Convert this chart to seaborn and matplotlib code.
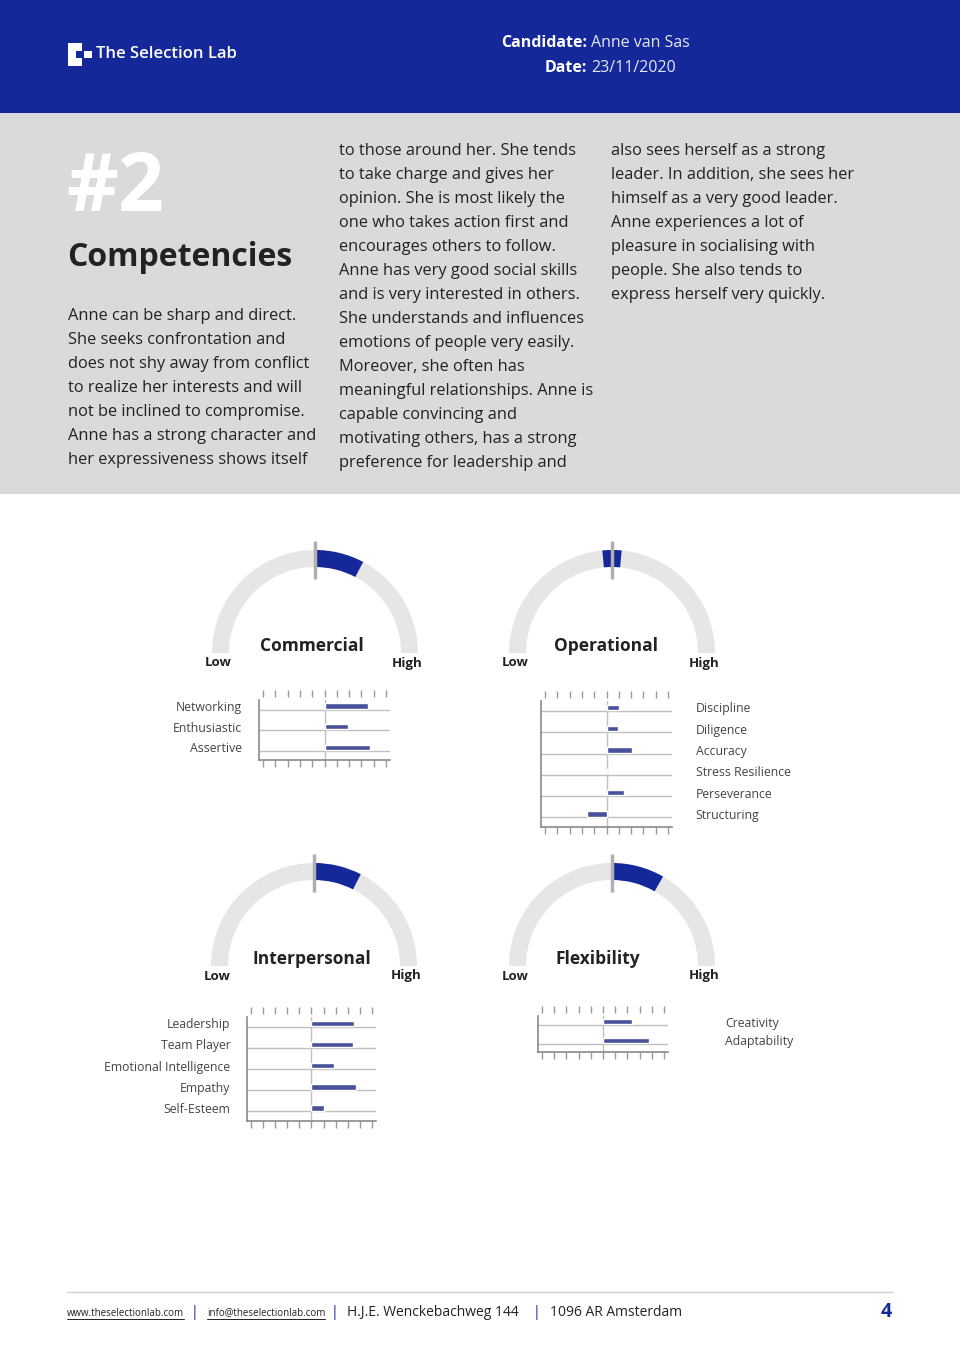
import matplotlib
matplotlib.use("Agg")
import matplotlib.pyplot as plt
import seaborn as sns
from matplotlib.patches import Wedge, Rectangle

# header info
candidate = "Anne van Sas"
report_date = "23/11/2020"

# intro text, one list per column
col1_lines = [
    "Anne can be sharp and direct.",
    "She seeks confrontation and",
    "does not shy away from conflict",
    "to realize her interests and will",
    "not be inclined to compromise.",
    "Anne has a strong character and",
    "her expressiveness shows itself",
]
col2_lines = [
    "to those around her. She tends",
    "to take charge and gives her",
    "opinion. She is most likely the",
    "one who takes action first and",
    "encourages others to follow.",
    "Anne has very good social skills",
    "and is very interested in others.",
    "She understands and influences",
    "emotions of people very easily.",
    "Moreover, she often has",
    "meaningful relationships. Anne is",
    "capable convincing and",
    "motivating others, has a strong",
    "preference for leadership and",
]
col3_lines = [
    "also sees herself as a strong",
    "leader. In addition, she sees her",
    "himself as a very good leader.",
    "Anne experiences a lot of",
    "pleasure in socialising with",
    "people. She also tends to",
    "express herself very quickly.",
]

# gauges: filled part of the half ring, -1 = Low, 1 = High
gauge_names = ["Commercial", "Operational", "Interpersonal", "Flexibility"]
gauge_low = [0.0, -0.06, 0.0, 0.0]
gauge_high = [0.31, 0.06, 0.30, 0.33]

# sub-scores on a -5..5 scale
commercial_labels = ["Networking", "Enthusiastic", "Assertive"]
commercial_scores = [3.5, 1.9, 3.7]
operational_labels = ["Discipline", "Diligence", "Accuracy", "Stress Resilience",
                      "Perseverance", "Structuring"]
operational_scores = [1.0, 0.9, 2.1, 0.0, 1.45, -1.6]
interpersonal_labels = ["Leadership", "Team Player", "Emotional Intelligence",
                        "Empathy", "Self-Esteem"]
interpersonal_scores = [3.5, 3.4, 1.9, 3.65, 1.0]
flexibility_labels = ["Creativity", "Adaptability"]
flexibility_scores = [2.4, 3.8]

navy = "#15289a"
bar_blue = "#3a47a6"
band_grey = "#dadada"
ring_grey = "#e6e6e6"
text_dark = "#222222"

sns.set_theme(style="white")
plt.rcParams["font.family"] = ["Open Sans", "DejaVu Sans"]

W, H = 960, 1360
fig = plt.figure(figsize=(9.6, 13.6), dpi=100)
fig.patch.set_facecolor("white")

# page canvas in pixel coordinates
bg = fig.add_axes([0, 0, 1, 1])
bg.set_xlim(0, W)
bg.set_ylim(H, 0)
bg.axis("off")

# header
bg.add_patch(Rectangle((0, 0), W, 113, facecolor=navy, edgecolor="none"))
bg.add_patch(Rectangle((68, 43), 14, 23, facecolor="white", edgecolor="none"))
bg.add_patch(Rectangle((76, 51), 6, 6.5, facecolor=navy, edgecolor="none"))
bg.add_patch(Rectangle((84, 51), 7.5, 6.5, facecolor="white", edgecolor="none"))
bg.text(96, 54, "The Selection Lab", color="white", fontsize=12, fontweight=600,
        ha="left", va="center")
bg.text(587, 43, "Candidate:", color="white", fontsize=11.5, fontweight="bold",
        ha="right", va="center")
bg.text(591, 43, candidate, color="#e4e6f2", fontsize=11.5, ha="left", va="center")
bg.text(587, 68, "Date:", color="white", fontsize=11.5, fontweight="bold",
        ha="right", va="center")
bg.text(591, 68, report_date, color="#e4e6f2", fontsize=11.5, ha="left", va="center")

# grey intro band
bg.add_patch(Rectangle((0, 113), W, 381, facecolor=band_grey, edgecolor="none"))
bg.text(66, 190, "#2", color="white", fontsize=58, fontweight="bold",
        ha="left", va="center")
bg.text(67, 258, "Competencies", color=text_dark, fontsize=23, fontweight="bold",
        ha="left", va="center")
for x0, y0, lines in [(68, 316, col1_lines), (339, 151, col2_lines), (611, 151, col3_lines)]:
    for i, line in enumerate(lines):
        bg.text(x0, y0 + 24 * i, line, color=text_dark, fontsize=11.8,
                ha="left", va="center")

# gauges
gauge_centres = [(315, 653), (612, 653), (314, 966), (612, 966)]
title_x = [312, 606, 312, 598]
for name, lo, hi, (cx, cy), tx in zip(gauge_names, gauge_low, gauge_high,
                                       gauge_centres, title_x):
    bg.add_patch(Wedge((cx, cy), 103, 180, 360, width=17,
                       facecolor=ring_grey, edgecolor="none"))
    bg.add_patch(Wedge((cx, cy), 103, 270 + lo * 90, 270 + hi * 90, width=17,
                       facecolor=navy, edgecolor="none"))
    bg.plot([cx, cx], [cy - 112, cy - 74], color="#b0b0b0", lw=2.5,
            solid_capstyle="butt")
    bg.text(tx, cy - 7, name, color=text_dark, fontsize=12.5, fontweight="bold",
            ha="center", va="center")
    bg.text(cx - 97, cy + 10, "Low", color=text_dark, fontsize=9.5,
            fontweight="bold", ha="center", va="center")
    bg.text(cx + 92, cy + 10, "High", color=text_dark, fontsize=9.5,
            fontweight="bold", ha="center", va="center")


def bar_panel(box, labels, scores, side, pad):
    x0, y0, x1, y1 = box
    ax = fig.add_axes([x0 / W, 1 - y1 / H, (x1 - x0) / W, (y1 - y0) / H])
    ax.set_facecolor("none")
    sns.barplot(x=scores, y=labels, orient="h", color=bar_blue, width=0.26,
                errorbar=None, ax=ax, zorder=3)
    n = len(labels)
    ax.set_xlim(-5.33, 5.33)
    ax.set_ylim(n - 1 + 0.62, -0.3)
    for i in range(n):
        ax.axhline(i + 0.17, color="#c0c0c0", lw=1, zorder=1)
    ax.axvline(0, color="#c0c0c0", lw=1, zorder=2)
    ax.set_xticks(range(-5, 6))
    ax.tick_params(axis="x", which="both", top=True, bottom=True,
                   labeltop=False, labelbottom=False, direction="out",
                   length=5, width=1, color="#9a9a9a")
    ax.spines["top"].set_position(("outward", 2))
    ax.spines["top"].set_color("none")
    ax.spines["right"].set_visible(False)
    ax.spines["left"].set_color("#8a8a8a")
    ax.spines["bottom"].set_color("#8a8a8a")
    ax.spines["left"].set_linewidth(1.2)
    ax.spines["bottom"].set_linewidth(1.2)
    if side == "right":
        ax.yaxis.tick_right()
    ax.tick_params(axis="y", length=0, pad=pad, labelsize=8.8, labelcolor="#444444")
    ax.set_xlabel("")
    ax.set_ylabel("")
    return ax


bar_panel((259, 700, 390, 760), commercial_labels, commercial_scores, "left", 12)
bar_panel((541, 701, 672, 827), operational_labels, operational_scores, "right", 17)
bar_panel((247, 1017, 376, 1121), interpersonal_labels, interpersonal_scores, "left", 12)
bar_panel((538, 1016, 668, 1052), flexibility_labels, flexibility_scores, "right", 41)

# footer
bg.plot([67, 893], [1292, 1292], color="#d2d2d2", lw=1)
link1 = bg.text(67, 1313, "www.theselectionlab.com", color=text_dark, fontsize=7,
                ha="left", va="center")
bg.text(195, 1312, "|", color=navy, fontsize=10, ha="center", va="center")
link2 = bg.text(207, 1313, "info@theselectionlab.com", color=text_dark, fontsize=7,
                ha="left", va="center")
bg.text(334, 1312, "|", color=navy, fontsize=10, ha="center", va="center")
bg.text(347, 1312, "H.J.E. Wenckebachweg 144", color=text_dark, fontsize=10,
        ha="left", va="center")
bg.text(537, 1312, "|", color=navy, fontsize=10, ha="center", va="center")
bg.text(550, 1312, "1096 AR Amsterdam", color=text_dark, fontsize=10,
        ha="left", va="center")
bg.text(886, 1312, "4", color=navy, fontsize=14, fontweight="bold",
        ha="center", va="center")

# underline the two links
fig.canvas.draw()
inv = bg.transData.inverted()
for t in (link1, link2):
    bb = t.get_window_extent()
    (ax0, ay0), (ax1, ay1) = inv.transform([(bb.x0, bb.y0), (bb.x1, bb.y0)])
    bg.plot([ax0, ax1], [ay0 + 0.5, ay1 + 0.5], color=text_dark, lw=0.7)

fig.savefig("out.png", dpi=100, facecolor="white")
